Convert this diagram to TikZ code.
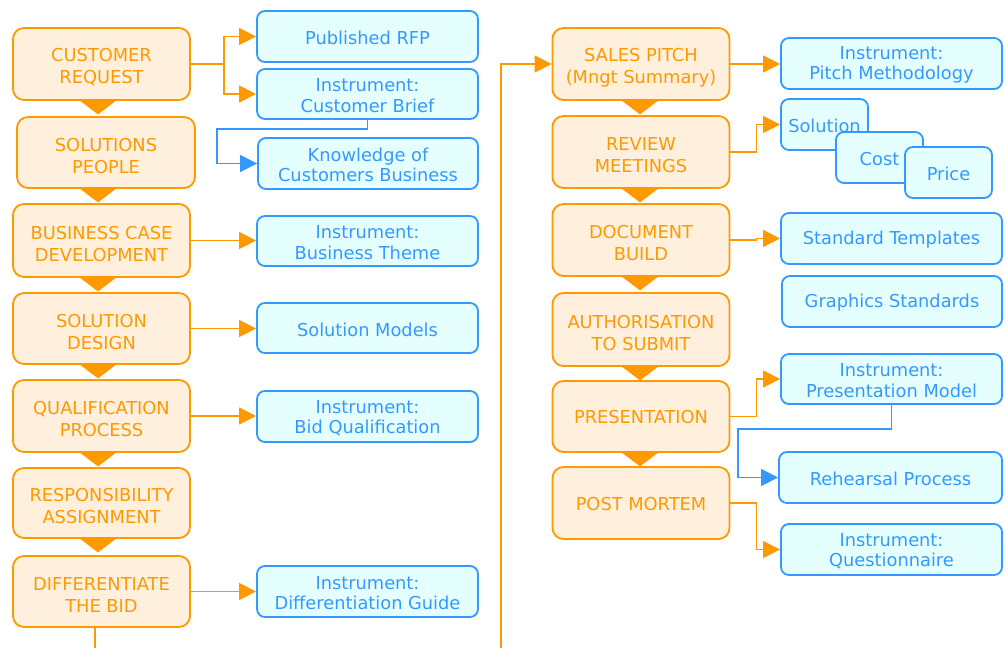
\documentclass[tikz,border=0pt]{standalone}
\usepackage{fontspec}
\setmainfont{DejaVu Sans}
\usetikzlibrary{arrows.meta,calc}

\definecolor{ocol}{RGB}{255,153,0}
\definecolor{ofill}{RGB}{255,239,221}
\definecolor{bcol}{RGB}{51,153,255}
\definecolor{bfill}{RGB}{229,255,255}

\tikzset{
  otxt/.style={font=\fontsize{17.8}{22}\selectfont, align=center, inner sep=0pt, text=ocol},
  btxt/.style={font=\fontsize{17.8}{20.5}\selectfont, align=center, inner sep=0pt, text=bcol},
  obox/.style={draw=ocol, fill=ofill, line width=1.8pt, inner sep=0pt,
               rounded corners=11pt, minimum width=177pt, minimum height=72pt},
  bbox/.style={draw=bcol, fill=bfill, line width=1.8pt, inner sep=0pt,
               rounded corners=8pt, minimum width=221pt, minimum height=51pt},
  sbox/.style={bbox, minimum width=87pt},
  oline/.style={draw=ocol, line width=1.4pt},
  oarrow/.style={oline, -{Triangle[length=17pt,width=17pt]}},
  barrow/.style={draw=bcol, line width=1.4pt, -{Triangle[length=17pt,width=17pt]}},
}

% step box with two text lines: options, name, centre, text
\newcommand\ostep[4][]{%
  \node[obox,#1] (#2) at (#3) {};
  \node[otxt] (#2-t) at ([yshift=-3.5pt]#2.center) {#4};}
% step box with one text line
\newcommand\ostepone[4][]{%
  \node[obox,#1] (#2) at (#3) {};
  \node[otxt] (#2-t) at ([yshift=-1pt]#2.center) {#4};}
% supporting item box: options, name, centre, text
\newcommand\bitem[4][]{%
  \node[bbox,#1] (#2) at (#3) {};
  \node[btxt] (#2-t) at ([yshift=-1.5pt]#2.center) {#4};}
% downward pointer below a step box (node, horizontal offset)
\newcommand\steptri[2]{%
  \fill[ocol] ($(#1.south)+(#2-19,-0.9)$) -- ++(38,0) -- ($(#1.south)+(#2,13.5)$) -- cycle;}

\begin{document}
\begin{tikzpicture}[x=1pt,y=-1pt]
\useasboundingbox (0,0) rectangle (1005,648);

% ---- left column: process steps ----
\ostep{cr}{101.5,64}{CUSTOMER\\REQUEST}
\ostep[minimum width=178pt, minimum height=71pt]{sp}{106,152.5}{SOLUTIONS\\PEOPLE}
\ostep[minimum height=73pt]{bc}{101.5,240.5}{BUSINESS CASE\\DEVELOPMENT}
\ostep[minimum height=71pt]{sd}{101.5,328.5}{SOLUTION\\DESIGN}
\ostep{qp}{101.5,416}{QUALIFICATION\\PROCESS}
\ostep[minimum height=70pt]{ra}{101.5,503}{RESPONSIBILITY\\ASSIGNMENT}
\ostep[minimum height=71pt]{db}{101.5,591.5}{DIFFERENTIATE\\THE BID}

\steptri{cr}{-3.5}
\steptri{sp}{-8}
\steptri{bc}{-3.5}
\steptri{sd}{-3.5}
\steptri{qp}{-3.5}
\steptri{ra}{-3.5}

% ---- left column: supporting items ----
\bitem{rfp}{367.5,36.5}{Published RFP}
\bitem[minimum height=50pt]{cb}{367.5,94}{Instrument:\\Customer Brief}
\bitem[minimum width=220pt]{kcb}{368,163.5}{Knowledge of\\Customers Business}
\bitem[minimum height=50pt]{bt}{367.5,241}{Instrument:\\Business Theme}
\bitem[minimum height=50pt]{sm}{367.5,328}{Solution Models}
\bitem{bq}{367.5,416.5}{Instrument:\\Bid Qualification}
\bitem{dg}{367.5,591.5}{Instrument:\\Differentiation Guide}

\draw[oarrow] (cr.east) -- ++(33,0) |- (rfp.west);
\draw[oarrow] (cr.east) -- ++(33,0) |- (cb.west);
\draw[barrow] (cb.south) -- ++(0,9) -| ([xshift=-40pt]kcb.west) -- (kcb.west);
\draw[oarrow] (bc.east) -- (bc.east -| bt.west);
\draw[oarrow] (sd.east) -- (sd.east -| sm.west);
\draw[oarrow] (qp.east) -- (qp.east -| bq.west);
\draw[oarrow] (db.east) -- (db.east -| dg.west);

% ---- right column: process steps ----
\ostep{spm}{641,64}{SALES PITCH\\(Mngt Summary)}
\ostep{rm}{641,152}{REVIEW\\MEETINGS}
\ostep{dbd}{641,240}{DOCUMENT\\BUILD}
\ostep[minimum height=73pt]{ats}{641,329.5}{AUTHORISATION\\TO SUBMIT}
\ostepone[minimum height=71pt]{pr}{641,416.5}{PRESENTATION}
\ostepone{pm}{641,503}{POST MORTEM}

\steptri{spm}{-1}
\steptri{rm}{-1}
\steptri{dbd}{-1}
\steptri{ats}{-1}
\steptri{pr}{-1}

% flow continues from the first column into the second
\coordinate (offL) at (95,648);
\coordinate (offR) at (501,648);
\draw[oline] (db.south -| offL) -- (offL);
\draw[oarrow] (offR) |- (spm.west);

% ---- right column: supporting items ----
\bitem{pim}{891.5,63.5}{Instrument:\\Pitch Methodology}
\bitem[sbox]{sol}{824.5,124.5}{Solution}
\bitem[sbox]{cost}{879.5,157.5}{Cost}
\bitem[sbox]{price}{948.5,172.5}{Price}
\bitem{st}{891.5,238.5}{Standard Templates}
\bitem[minimum width=220pt]{gs}{892,301.5}{Graphics Standards}
\bitem[minimum height=50pt]{prm}{891.5,379}{Instrument:\\Presentation Model}
\bitem[minimum width=223pt]{rp}{890.5,477.5}{Rehearsal Process}
\bitem{qn}{891.5,549.5}{Instrument:\\Questionnaire}

\draw[oarrow] (spm.east) -- (spm.east -| pim.west);
\draw[oarrow] (rm.east) -- ++(26,0) |- (sol.west);
\draw[oarrow] (dbd.east) -- ++(26,0) |- (st.west);
\draw[oarrow] (pr.east) -- ++(26,0) |- (prm.west);
\draw[barrow] (prm.south) -- ++(0,24) -| ([xshift=-40pt]rp.west) -- (rp.west);
\draw[oarrow] (pm.east) -- ++(26,0) |- (qn.west);
\end{tikzpicture}
\end{document}
